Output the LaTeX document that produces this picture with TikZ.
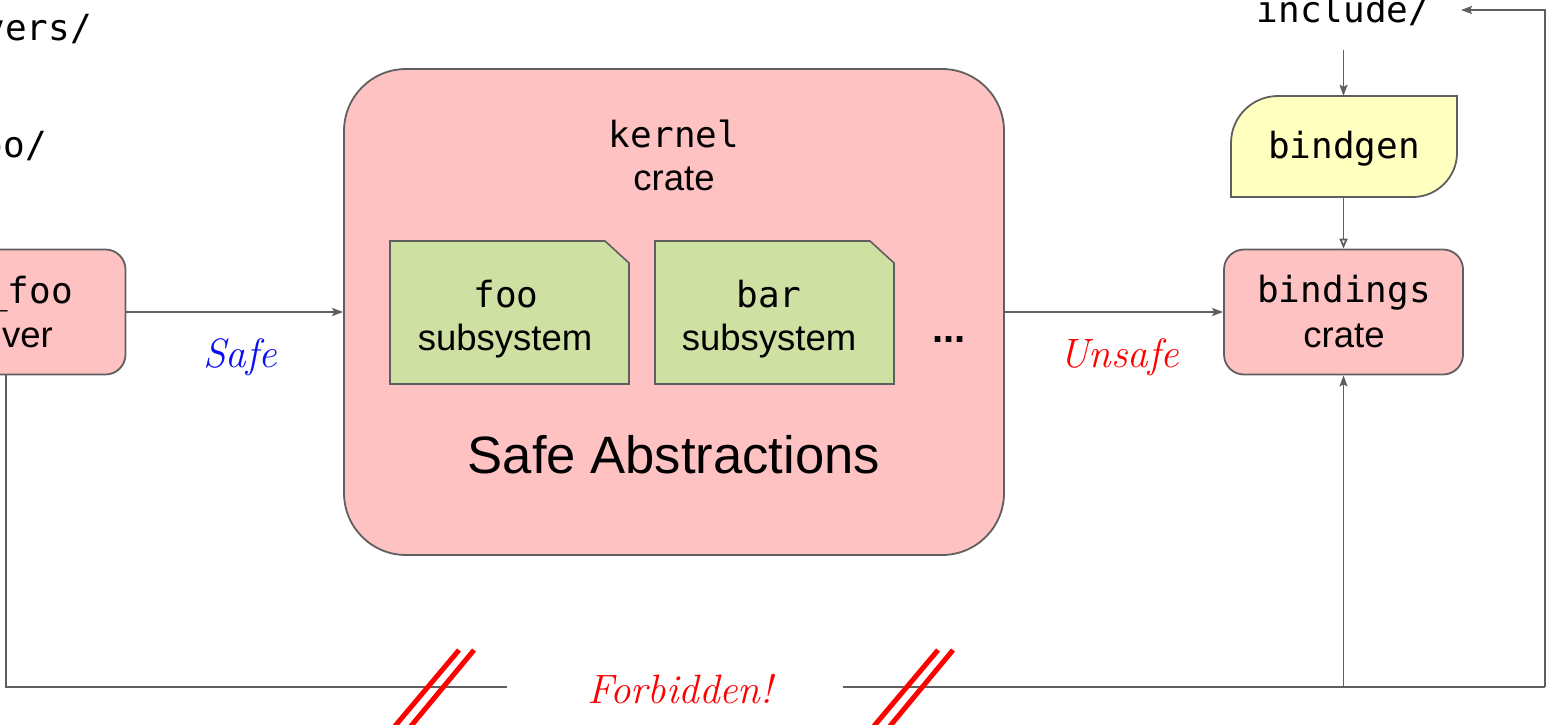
\documentclass[tikz,border=0pt]{standalone}
\usepackage{fontspec}
\setsansfont{Liberation Sans}
\newfontfamily\monof{DejaVu Sans Mono}
\usetikzlibrary{arrows.meta}
\definecolor{linegray}{HTML}{5F5F5F}
\definecolor{boxpink}{HTML}{FFC2C2}
\definecolor{subgreen}{HTML}{CFE0A3}
\definecolor{genyellow}{HTML}{FFFFC0}
\definecolor{safeblue}{HTML}{0A10F0}
\definecolor{alarmred}{HTML}{FF0000}
\begin{document}
\begin{tikzpicture}[x=1pt,y=-1pt,
 sansT/.style={font=\sffamily\fontsize{36.5}{40}\selectfont, inner sep=0pt, anchor=base},
 monoT/.style={font=\monof\fontsize{36}{40}\selectfont, inner sep=0pt, anchor=base},
 handT/.style={font=\rmfamily\itshape\fontsize{41}{46}\selectfont, inner sep=0pt, anchor=base},
 cratebox/.style={draw=linegray, line width=1.8pt, fill=boxpink, rounded corners=20pt, minimum width=239pt, minimum height=125pt, inner sep=0pt},
 conn/.style={draw=linegray, line width=1.8pt},
 arr/.style={conn, -{Stealth[length=11pt,width=8pt,inset=2pt]}},
 openarr/.style={conn, -{Triangle[open,length=10pt,width=8pt]}},
 subbox/.style={draw=linegray, line width=1.6pt, fill=subgreen},
 slash/.style={draw=alarmred, line width=5pt},
 ghost/.style={inner sep=0pt},
]
\useasboundingbox (0,0) rectangle (1546,724);

% left side: folders and driver
\node[monoT, anchor=base east] (drvdir) at (92,40) {drivers/};
\node[monoT, anchor=base east] (foodir) at (47,157) {foo/};
\node[cratebox] (driver) at (6,312) {};
\node[monoT, anchor=base east] (drvname) at (73,303) {rust\_foo};
\node[sansT, anchor=base east] (drvlabel) at (53,347) {driver};

% kernel crate
\node[draw=linegray, line width=1.8pt, fill=boxpink, rounded corners=62pt,
      minimum width=660pt, minimum height=486pt, inner sep=0pt] (kernel) at (674,312) {};
\node[monoT] (kname) at (674,147) {kernel};
\node[sansT] (kcrate) at (674,190) {crate};

\path[subbox] (390,241) -- (605,241) -- (629,263) -- (629,384) -- (390,384) -- cycle;
\node[monoT] (fooname) at (506,307) {foo};
\node[sansT] (foosub) at (505,350) {subsystem};

\path[subbox] (655,241) -- (870,241) -- (894,263) -- (894,384) -- (655,384) -- cycle;
\node[monoT] (barname) at (769,307) {bar};
\node[sansT] (barsub) at (769,350) {subsystem};

\node[sansT, font=\sffamily\bfseries\fontsize{40}{44}\selectfont] (dots) at (949,342) {...};
\node[sansT, font=\sffamily\fontsize{52.6}{58}\selectfont] (safeabs) at (674,473) {Safe Abstractions};

% right side
\node[monoT] (include) at (1343.5,22) {include/};

\path[draw=linegray, line width=1.8pt, fill=genyellow]
  (1231,197) -- (1231,143) .. controls (1231,117) and (1252,96) .. (1278,96)
  -- (1457,96) -- (1457,153) .. controls (1457,177) and (1437,197) .. (1413,197) -- cycle;
\node[ghost, minimum width=226pt, minimum height=101pt] (bindgenbox) at (1343.5,146.5) {};
\node[monoT] (bindgen) at (1344,158) {bindgen};

\node[cratebox] (bindings) at (1343.5,312) {};
\node[monoT] (bname) at (1344,302) {bindings};
\node[sansT] (bcrate) at (1344,347) {crate};

% connectors
\draw[arr] (driver.east) -- (kernel.west);
\draw[arr] (kernel.east) -- (bindings.west);
\draw[arr, shorten <=24pt] (include.south) -- (bindgenbox.north);
\draw[openarr] (bindgenbox.south) -- (bindings.north);

\node[handT, text=safeblue] (safe) at (240,367) {Safe};
\node[handT, text=alarmred] (unsafe) at (1119,367) {Unsafe};
\node[handT, text=alarmred] (forbidden) at (680,703) {Forbidden!};

\coordinate (leftend) at (507,687);
\coordinate (rightstart) at (843,687);
\coordinate (cornerBR) at (1545,687);
\coordinate (cornerTR) at (1545,10);
\coordinate (inctip) at (1461,10);
\coordinate (bjoin) at (1343.5,687);
\draw[conn] (driver.south) |- (leftend);
\draw[conn] (rightstart) -- (cornerBR);
\draw[arr] (cornerBR) -- (cornerTR) -- (inctip);
\draw[arr] (bjoin) -- (bindings.south);

% forbidden slashes
\draw[slash] (395,726) -- (459,650);
\draw[slash] (411,726) -- (474,650);
\draw[slash] (874,726) -- (938,650);
\draw[slash] (890,726) -- (953,650);
\end{tikzpicture}
\end{document}
